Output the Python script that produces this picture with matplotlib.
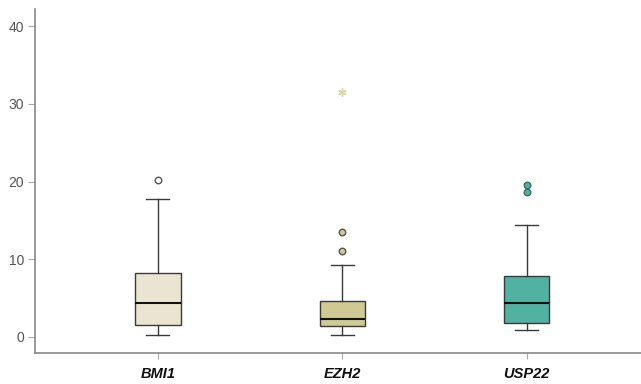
import matplotlib.pyplot as plt

plt.rcParams["font.family"] = ["Liberation Sans", "DejaVu Sans"]

genes = ["BMI1", "EZH2", "USP22"]
q1 = [1.55, 1.42, 1.8]
med = [4.35, 2.32, 4.4]
q3 = [8.2, 4.65, 7.8]
whislo = [0.26, 0.26, 0.9]
whishi = [17.8, 9.3, 14.45]
outliers = [[20.2], [11.1, 13.5], [18.7, 19.5]]
extremes = [[], [31.5], []]

box_colors = ["#ebe4d1", "#cfca93", "#52b2a1"]
flier_colors = ["#ffffff", "#cfca93", "#52b2a1"]
flier_edges = ["#555555", "#555555", "#3d6e64"]

stats = []
for i, g in enumerate(genes):
    stats.append(dict(label=g, q1=q1[i], med=med[i], q3=q3[i],
                      whislo=whislo[i], whishi=whishi[i], fliers=[]))

fig = plt.figure(figsize=(6.41, 3.84), dpi=100)
ax = fig.add_axes([35 / 641, 31 / 384, 606 / 641, 344 / 384])

bp = ax.bxp(stats, positions=range(3), widths=0.245, patch_artist=True,
            boxprops=dict(edgecolor="#3a3a3a", linewidth=1.0),
            medianprops=dict(color="#111111", linewidth=1.5),
            whiskerprops=dict(color="#3a3a3a", linewidth=1.0),
            capprops=dict(color="#3a3a3a", linewidth=1.0),
            capwidths=0.125)
for patch, c in zip(bp["boxes"], box_colors):
    patch.set_facecolor(c)

for i in range(3):
    ax.scatter([i] * len(outliers[i]), outliers[i], s=22, facecolor=flier_colors[i],
               edgecolor=flier_edges[i], linewidth=1.0, zorder=3)
    if extremes[i]:
        # asterisk-style extreme marker
        ax.scatter([i] * len(extremes[i]), extremes[i], marker=(6, 2, 0), s=28,
                   color="#d9d5a0", linewidth=1.0, zorder=3)

ax.set_xlim(-0.667, 2.62)
ax.set_ylim(-2.06, 42.2)
ax.set_yticks([0, 10, 20, 30, 40])
ax.set_xticks(range(3))
ax.set_xticklabels(genes, fontstyle="italic", fontweight="bold", fontsize=10.5)
ax.tick_params(axis="y", colors="#aaaaaa", labelcolor="#555555", labelsize=10,
               length=5, pad=3)
ax.tick_params(axis="x", colors="#aaaaaa", labelcolor="#111111", length=4, pad=6)

for s in ["top", "right"]:
    ax.spines[s].set_visible(False)
for s in ["left", "bottom"]:
    ax.spines[s].set_color("#888888")
    ax.spines[s].set_linewidth(1.2)

fig.savefig("out.png", dpi=100)
